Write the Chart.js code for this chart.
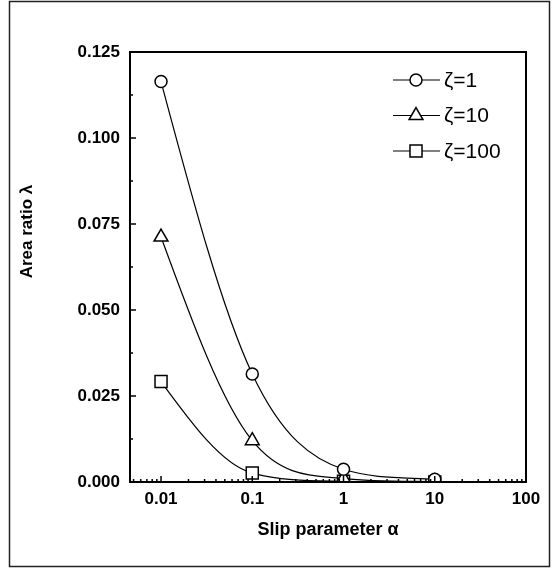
<!DOCTYPE html>
<html>
<head>
<meta charset="utf-8">
<script src="https://cdn.jsdelivr.net/npm/chart.js@4.4.1/dist/chart.umd.min.js"></script>
<style>
  html, body { margin: 0; padding: 0; background: #fff; }
  canvas { display: block; }
</style>
</head>
<body>
<canvas id="chart" width="554" height="568"></canvas>
<script>
// valores
const alpha = [0.01, 0.1, 1, 10];
const zeta1 = [0.1164, 0.0314, 0.0037, 0.0008];
const zeta10 = [0.0712, 0.0120, 0.0010, 0.0001];
const zeta100 = [0.0292, 0.0026, 0.0002, 0.0000];

const seriesNames = ['ζ=1', 'ζ=10', 'ζ=100'];
const xTicks = [0.01, 0.1, 1, 10, 100];
const yTicks = [0, 0.025, 0.05, 0.075, 0.1, 0.125];

Chart.defaults.font.family = "'Liberation Sans', Arial, Helvetica, sans-serif";
Chart.defaults.color = '#000';

const toPoints = ys => alpha.map((a, i) => ({ x: a, y: ys[i] }));

function serie(label, ys, style, radius) {
  return {
    label: label,
    data: toPoints(ys),
    borderColor: '#000',
    borderWidth: 1.2,
    backgroundColor: '#fff',
    pointStyle: style,
    pointRadius: radius,
    pointBorderWidth: 1.5,
    pointBackgroundColor: '#fff',
    pointBorderColor: '#000',
    cubicInterpolationMode: 'monotone'
  };
}

// el primer tramo sin punto de inflexion (como la curva suavizada del original)
const convexStart = {
  id: 'convexStart',
  beforeDatasetDraw(chart, args) {
    const meta = args.meta;
    meta.dataset.updateControlPoints(chart.chartArea, 'x');
    const p0 = meta.data[0], p1 = meta.data[1];
    const dx = p1.x - p0.x;
    const s0 = (p1.y - p0.y) / dx;
    const m1 = (p1.y - p1.cp1y) / (p1.x - p1.cp1x);
    const m0 = 1.5 * s0 - 0.5 * m1;
    p0.cp2x = p0.x + dx / 3;
    p0.cp2y = p0.y + m0 * dx / 3;
  }
};

// marco, ticks hacia dentro y borde exterior
const framePlugin = {
  id: 'framePlugin',
  beforeDraw(chart) {
    const ctx = chart.ctx;
    ctx.save();
    ctx.strokeStyle = '#222';
    ctx.lineWidth = 1.5;
    ctx.strokeRect(9.5, 1.5, 540, 565);
    ctx.restore();
  },
  afterDatasetsDraw(chart) {
    const { ctx, chartArea: a, scales: { x, y } } = chart;
    ctx.save();
    ctx.strokeStyle = '#000';
    ctx.lineWidth = 2;
    ctx.strokeRect(a.left, a.top, a.right - a.left, a.bottom - a.top);

    ctx.lineWidth = 1.5;
    ctx.beginPath();
    yTicks.forEach(v => {
      const py = y.getPixelForValue(v);
      ctx.moveTo(a.left, py); ctx.lineTo(a.left + 6, py);
    });
    yTicks.slice(1).forEach((v, i) => {
      const py = y.getPixelForValue((v + yTicks[i]) / 2);
      ctx.moveTo(a.left, py); ctx.lineTo(a.left + 3, py);
    });
    xTicks.forEach(v => {
      const px = x.getPixelForValue(v);
      ctx.moveTo(px, a.bottom); ctx.lineTo(px, a.bottom - 6);
    });
    [xTicks[0] / 10].concat(xTicks).forEach(d => {
      for (let k = 2; k <= 9; k++) {
        const v = d * k;
        if (v < x.min || v > x.max) continue;
        const px = x.getPixelForValue(v);
        ctx.moveTo(px, a.bottom); ctx.lineTo(px, a.bottom - 3);
      }
    });
    ctx.stroke();
    ctx.restore();
  }
};

// leyenda con linea y simbolo
const legendPlugin = {
  id: 'legendPlugin',
  afterDraw(chart) {
    const ctx = chart.ctx;
    ctx.save();
    chart.data.datasets.forEach((ds, i) => {
      const yy = 80 + i * 35.5;
      ctx.strokeStyle = '#000';
      ctx.lineWidth = 1.2;
      ctx.beginPath();
      ctx.moveTo(393, yy); ctx.lineTo(440, yy);
      ctx.stroke();
      ctx.fillStyle = '#fff';
      ctx.lineWidth = 1.5;
      Chart.helpers.drawPoint(ctx, {
        pointStyle: ds.pointStyle, radius: ds.pointRadius, rotation: 0, borderWidth: 1.5
      }, 416, yy);
      ctx.fillStyle = '#000';
      ctx.font = "21px 'Liberation Sans', Arial, sans-serif";
      ctx.textBaseline = 'middle';
      ctx.textAlign = 'left';
      ctx.fillText(ds.label, 444, yy + 1);
    });
    ctx.restore();
  }
};

new Chart(document.getElementById('chart'), {
  type: 'line',
  data: {
    datasets: [
      serie(seriesNames[0], zeta1, 'circle', 6),
      serie(seriesNames[1], zeta10, 'triangle', 8),
      serie(seriesNames[2], zeta100, 'rect', 8.5)
    ]
  },
  options: {
    responsive: false,
    animation: false,
    layout: { padding: { left: 8, right: 28, top: 52, bottom: 8 } },
    plugins: { legend: { display: false }, tooltip: { enabled: false } },
    scales: {
      x: {
        type: 'logarithmic',
        min: 0.00457,
        max: 100,
        grid: { display: false, drawTicks: false },
        border: { display: false },
        afterBuildTicks: s => { s.ticks = xTicks.map(v => ({ value: v })); },
        afterFit: s => { s.height = 78; },
        ticks: {
          padding: 7,
          maxRotation: 0,
          autoSkip: false,
          font: { size: 17, weight: 'bold' },
          callback: v => String(v)
        },
        title: {
          display: true,
          text: 'Slip parameter α',
          font: { size: 18, weight: 'bold' },
          padding: { top: 0, bottom: 19 }
        }
      },
      y: {
        min: 0,
        max: 0.125,
        grid: { display: false, drawTicks: false },
        border: { display: false },
        afterBuildTicks: s => { s.ticks = yTicks.map(v => ({ value: v })); },
        afterFit: s => { s.width = 122; },
        ticks: {
          padding: 10,
          font: { size: 17, weight: 'bold' },
          callback: v => v.toFixed(3)
        },
        title: {
          display: true,
          text: '               Area ratio λ',
          font: { size: 17, weight: 'bold' },
          padding: { top: 9, bottom: 0 }
        }
      }
    }
  },
  plugins: [convexStart, framePlugin, legendPlugin]
});
</script>
</body>
</html>
